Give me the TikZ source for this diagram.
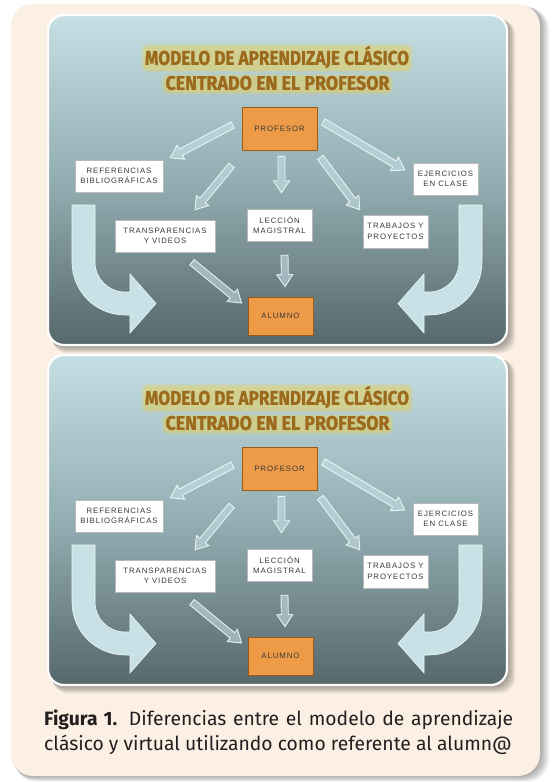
\documentclass[tikz,border=0pt]{standalone}
\usepackage{fontspec}
\setmainfont{Fira Sans}
\newfontfamily\boxfont{Liberation Sans}[LetterSpace=12]
\newfontfamily\capfont{Fira Sans}
\newfontfamily\ttB{Fira Sans}[FakeBold=1.2]
\usepackage{graphicx}
\usetikzlibrary{calc}

\definecolor{cream}{HTML}{FBF0E3}
\definecolor{slTop}{HTML}{C5DFE4}
\definecolor{slMid}{HTML}{93AEB3}
\definecolor{slBot}{HTML}{56686B}
\definecolor{orbox}{HTML}{EE9B48}
\definecolor{orline}{HTML}{9A5A18}
\definecolor{arrfill}{HTML}{C9E3EA}
\definecolor{arrline}{HTML}{EEF8FA}
\definecolor{bigarr}{HTML}{C8E1E7}
\definecolor{ttcore}{HTML}{9C6A1C}
\definecolor{ttedge}{HTML}{EBD04A}
\definecolor{boxtext}{HTML}{3A3A3A}
\definecolor{captext}{HTML}{231F20}

\tikzset{
  wbox/.style={draw=gray!55, fill=white, line width=0.5pt, inner sep=0pt, align=center,
    text=boxtext, font=\boxfont\fontsize{7.8}{10.5}\selectfont},
  obox/.style={draw=orline, fill=orbox, line width=0.8pt, inner sep=0pt, align=center,
    text=boxtext, font=\boxfont\fontsize{7.8}{10.5}\selectfont},
  smallarr/.style={draw=arrline, fill=arrfill, fill opacity=0.55, draw opacity=0.9, line width=0.9pt, line join=miter},
  bigarrow/.style={fill=bigarr, draw=arrline, line width=0.6pt},
  ttlnode/.style={inner sep=0pt},
  glow/.style={fill=ttedge, opacity=0.2, rounded corners=5pt},
}

\newcommand\blockarr[2]{%
  \path #1 coordinate (bs) #2 coordinate (be);
  \path ($(be)!12pt!(bs)$) coordinate (bh);
  \draw[smallarr] ($(bs)!3.5pt!90:(be)$) -- ($(bh)!3.5pt!-90:(bs)$) -- ($(bh)!8pt!-90:(bs)$)
    -- (be) -- ($(bh)!8pt!90:(bs)$) -- ($(bh)!3.5pt!90:(bs)$) -- ($(bs)!3.5pt!-90:(be)$) -- cycle;
}

% title line: #1 name, #2 x, #3 y, #4 width, #5 height, #6 text
\newcommand\ttline[6]{%
  \node[ttlnode] (#1) at (#2,#3) {\resizebox{#4}{#5}{\ttB\bfseries\color{ttcore}#6}};
  \begin{pgfonlayer}{background}
    \foreach \g in {0,1.2,2.4}
      \fill[glow] ($(#1.south west)+(-\g-1,\g+1.5)$) rectangle ($(#1.north east)+(\g+1,-\g+1)$);
  \end{pgfonlayer}
}

\pgfdeclarelayer{background}
\pgfdeclarelayer{slidebg}
\pgfsetlayers{slidebg,background,main}

\newcommand\slide[1]{%
  \begin{pgfonlayer}{slidebg}
  \foreach \i in {1,...,7}
    \fill[black, opacity=0.06, rounded corners=16pt] (48+\i*0.6,15+#1+\i*0.6) rectangle (507+\i*1.2,345+#1+\i*1.2);
  \shade[top color=slTop, bottom color=slBot, middle color=slMid, rounded corners=16pt]
    (48,15+#1) rectangle (507,345+#1);
  \draw[white, line width=2.2pt, rounded corners=16pt] (48,15+#1) rectangle (507,345+#1);
  \end{pgfonlayer}
  % title
  \ttline{ttl1}{277}{57+#1}{264pt}{19pt}{MODELO DE APRENDIZAJE CLÁSICO}
  \ttline{ttl2}{277.5}{83+#1}{224pt}{14pt}{CENTRADO EN EL PROFESOR}
  % big curved arrows
  \draw[bigarrow] (72,205+#1) -- (72,262+#1) .. controls (72,291.3+#1) and (95.7,315+#1) .. (125,315+#1)
    -- (130,315+#1) -- (130,333+#1) -- (156,303.5+#1) -- (130,274+#1) -- (130,292+#1) -- (125,292+#1)
    .. controls (108.4,292+#1) and (95,278.6+#1) .. (95,262+#1) -- (95,205+#1) -- cycle;
  \draw[bigarrow] (482,205+#1) -- (482,262+#1) .. controls (482,291.3+#1) and (458.3,315+#1) .. (429,315+#1)
    -- (424,315+#1) -- (424,333+#1) -- (398,303.5+#1) -- (424,274+#1) -- (424,292+#1) -- (429,292+#1)
    .. controls (445.6,292+#1) and (459,278.6+#1) .. (459,262+#1) -- (459,205+#1) -- cycle;
  % boxes
  \node[obox, minimum width=75pt, minimum height=43pt] (prof) at (279.5,128.5+#1) {PROFESOR};
  \node[wbox, minimum width=88pt, minimum height=32pt] (ref) at (119,176+#1) {REFERENCIAS\\BIBLIOGRÁFICAS};
  \node[wbox, minimum width=65pt, minimum height=32pt] (ejer) at (445.5,179+#1) {EJERCICIOS\\EN CLASE};
  \node[wbox, minimum width=65pt, minimum height=32pt] (lecc) at (279.5,225+#1) {LECCIÓN\\MAGISTRAL};
  \node[wbox, minimum width=100pt, minimum height=32pt] (trans) at (165,236+#1) {TRANSPARENCIAS\\Y VIDEOS};
  \node[wbox, minimum width=65pt, minimum height=33pt] (trab) at (395.5,231.5+#1) {TRABAJOS Y\\PROYECTOS};
  \node[obox, minimum width=65pt, minimum height=38pt] (alum) at (280.5,316+#1) {ALUMNO};
  % connectors
  \blockarr{($(prof.west)+(-9,-3.5)$)}{($(ref.north east)+(7,-2)$)}
  \blockarr{($(prof.south west)+(-10,15)$)}{($(trans.north)+(30,-10)$)}
  \blockarr{($(prof.south)+(2,6)$)}{($(lecc.north)+(2,-16)$)}
  \blockarr{($(prof.east)+(6,-6.5)$)}{($(ejer.west)+(-8,-9)$)}
  \blockarr{($(prof.south east)+(3,7)$)}{($(trab.north west)+(-3,-5)$)}
  \blockarr{($(trans.south)+(27,10)$)}{($(alum.west)+(-6,-13)$)}
  \blockarr{($(lecc.south)+(5,14)$)}{($(alum.north)+(4.5,-10)$)}
}

\begin{document}
\begin{tikzpicture}[x=1pt,y=-1pt]
  \begin{pgfonlayer}{slidebg}
  \useasboundingbox (0,0) rectangle (552,782);
  \fill[white] (0,0) rectangle (552,782);
  \foreach \i in {1,...,7}
    \fill[black, opacity=0.05, rounded corners=22pt] (11+\i*0.5,4+\i*0.5) rectangle (540+\i*1.3,776+\i*0.8);
  \fill[cream, rounded corners=22pt] (11,4) rectangle (540,776);
  \end{pgfonlayer}
  \begin{scope}[name prefix=t-]
    \slide{0}
  \end{scope}
  \begin{scope}[name prefix=b-]
    \slide{340}
  \end{scope}
  % caption
  \node[anchor=base west, inner sep=0pt, text=captext, font=\capfont\fontsize{19.3}{22}\selectfont] (cap1) at (44,725.5)
    {\makebox[469pt][s]{\textbf{Figura 1.} Diferencias entre el modelo de aprendizaje}};
  \node[anchor=base west, inner sep=0pt, text=captext, font=\capfont\fontsize{19.3}{22}\selectfont] (cap2) at (44,750.5)
    {clásico y virtual utilizando como referente al alumn@};
\end{tikzpicture}
\end{document}
